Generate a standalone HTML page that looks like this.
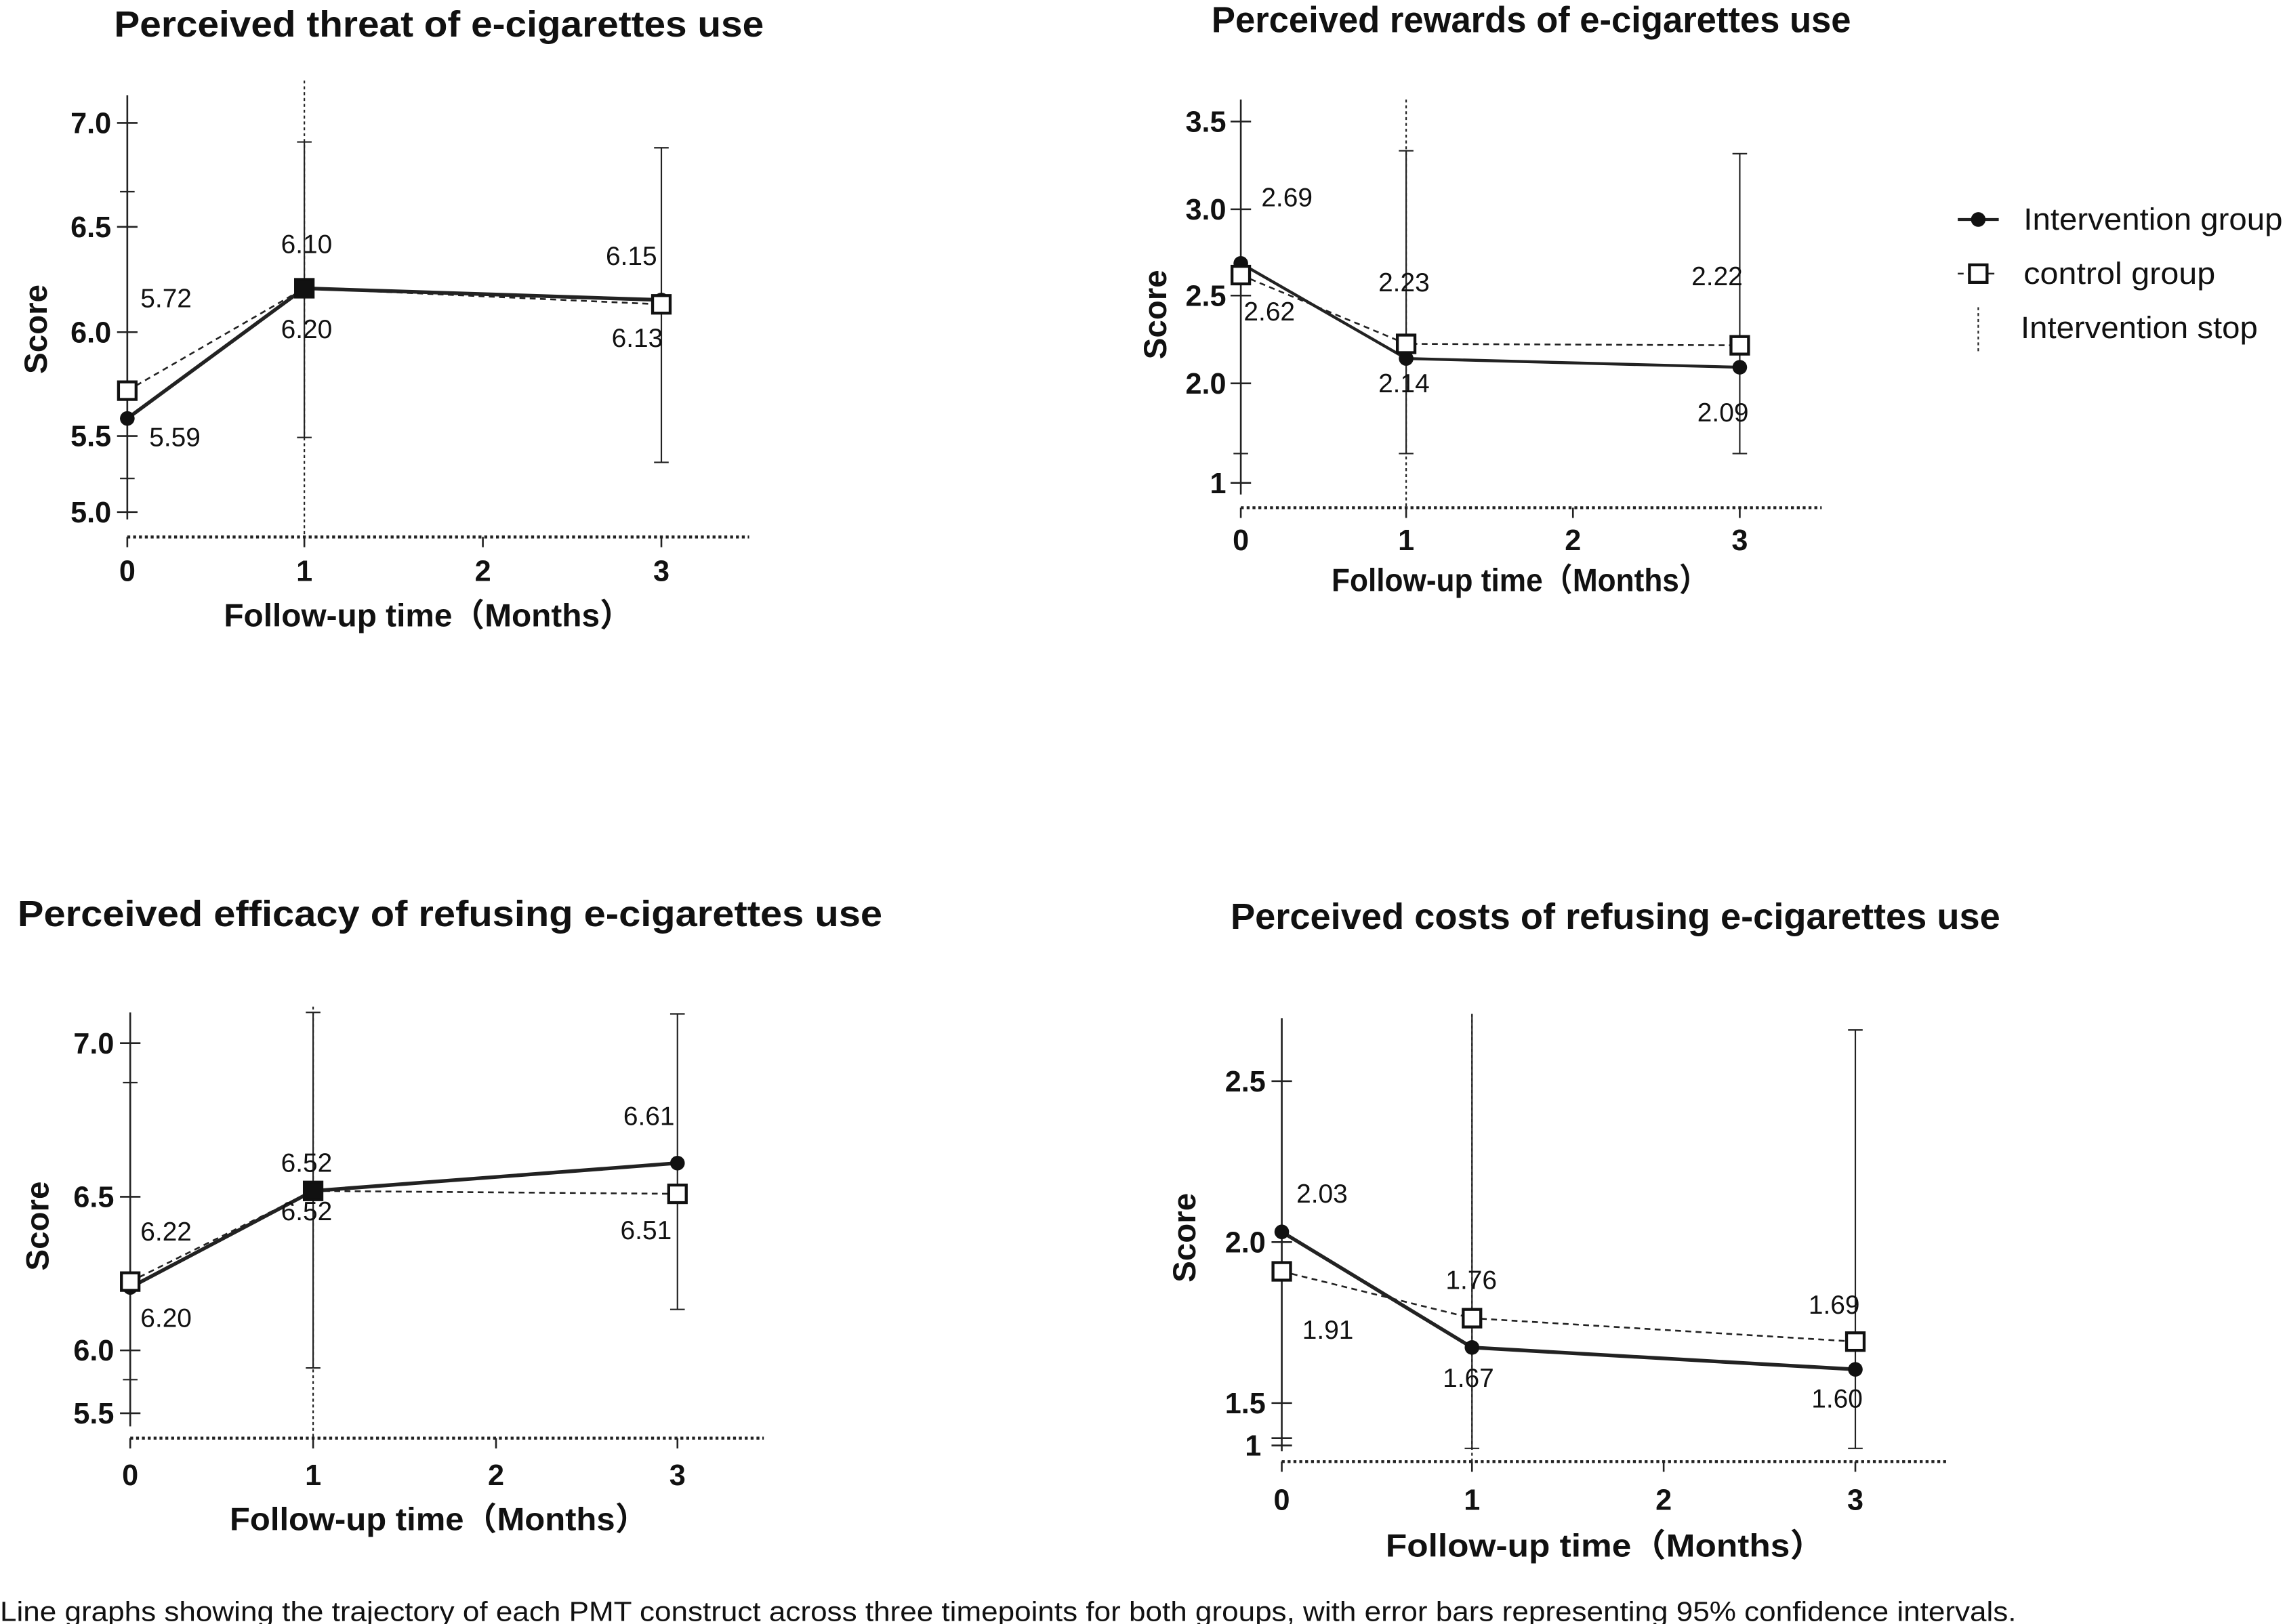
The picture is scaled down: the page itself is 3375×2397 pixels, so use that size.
<!DOCTYPE html>
<html><head><meta charset="utf-8"><style>
html,body{margin:0;padding:0;background:#fff;}
svg{display:block;}
text{font-family:"Liberation Sans","Noto Sans CJK SC",sans-serif;fill:#111;}
.t{font-size:25px;font-weight:bold;}
.tk{font-size:20px;font-weight:bold;}
.ax{font-size:22px;font-weight:bold;}
.an{font-size:18px;}
.lg{font-size:21px;}
</style></head><body>
<svg width="3375" height="2397" viewBox="0 0 1563 1110" xmlns="http://www.w3.org/2000/svg">
<g stroke="#222" fill="none">
<!-- Chart 1 -->
<line x1="87" y1="65" x2="87" y2="355" stroke-width="1.2"/>
<line x1="87" y1="367" x2="512" y2="367" stroke-dasharray="2,2" stroke-width="2"/>
<g stroke-width="1.2"><line x1="80" y1="84" x2="94" y2="84"/><line x1="80" y1="155" x2="94" y2="155"/><line x1="80" y1="227" x2="94" y2="227"/><line x1="80" y1="298" x2="94" y2="298"/><line x1="80" y1="350" x2="94" y2="350"/>
<line x1="87" y1="367" x2="87" y2="374"/><line x1="208" y1="367" x2="208" y2="374"/><line x1="330" y1="367" x2="330" y2="374"/><line x1="452" y1="367" x2="452" y2="374"/></g>
<line x1="208" y1="55" x2="208" y2="367" stroke-dasharray="2,2" stroke-width="1"/>
<g stroke-width="1"><line x1="87" y1="131" x2="87" y2="327"/><line x1="82" y1="131" x2="92" y2="131"/><line x1="82" y1="327" x2="92" y2="327"/>
<line x1="208" y1="97" x2="208" y2="299"/><line x1="203" y1="97" x2="213" y2="97"/><line x1="203" y1="299" x2="213" y2="299"/>
<line x1="452" y1="101" x2="452" y2="316"/><line x1="447" y1="101" x2="457" y2="101"/><line x1="447" y1="316" x2="457" y2="316"/></g>
<polyline points="87,267 208,197 452,208" stroke-dasharray="4,3" stroke-width="1.2"/>
<polyline points="87,286 208,197 452,205" stroke-width="2.5"/>
<!-- Chart 2 -->
<line x1="848" y1="68" x2="848" y2="338" stroke-width="1.2"/>
<line x1="848" y1="347" x2="1245" y2="347" stroke-dasharray="2,2" stroke-width="2"/>
<g stroke-width="1.2"><line x1="841" y1="83" x2="855" y2="83"/><line x1="841" y1="143" x2="855" y2="143"/><line x1="841" y1="202" x2="855" y2="202"/><line x1="841" y1="262" x2="855" y2="262"/><line x1="841" y1="330" x2="855" y2="330"/>
<line x1="848" y1="347" x2="848" y2="354"/><line x1="961" y1="347" x2="961" y2="354"/><line x1="1075" y1="347" x2="1075" y2="354"/><line x1="1189" y1="347" x2="1189" y2="354"/></g>
<line x1="961" y1="68" x2="961" y2="347" stroke-dasharray="2,2" stroke-width="1"/>
<g stroke-width="1"><line x1="848" y1="185" x2="848" y2="310"/><line x1="843" y1="310" x2="853" y2="310"/>
<line x1="961" y1="103" x2="961" y2="310"/><line x1="956" y1="103" x2="966" y2="103"/><line x1="956" y1="310" x2="966" y2="310"/>
<line x1="1189" y1="105" x2="1189" y2="310"/><line x1="1184" y1="105" x2="1194" y2="105"/><line x1="1184" y1="310" x2="1194" y2="310"/></g>
<polyline points="848,188 961,235 1189,236" stroke-dasharray="4,3" stroke-width="1.2"/>
<polyline points="848,180 961,245 1189,251" stroke-width="2"/>
<!-- legend -->
<line x1="1338" y1="150" x2="1366" y2="150" stroke-width="2"/>
<line x1="1338" y1="187" x2="1366" y2="187" stroke-dasharray="4,3" stroke-width="1.2"/>
<line x1="1352" y1="210" x2="1352" y2="242" stroke-dasharray="2,2" stroke-width="1"/>
<!-- Chart 3 -->
<line x1="89" y1="692" x2="89" y2="975" stroke-width="1.2"/>
<line x1="89" y1="983" x2="522" y2="983" stroke-dasharray="2,2" stroke-width="2"/>
<g stroke-width="1.2"><line x1="82" y1="713" x2="96" y2="713"/><line x1="82" y1="818" x2="96" y2="818"/><line x1="82" y1="923" x2="96" y2="923"/><line x1="82" y1="966" x2="96" y2="966"/>
<line x1="89" y1="983" x2="89" y2="990"/><line x1="214" y1="983" x2="214" y2="990"/><line x1="339" y1="983" x2="339" y2="990"/><line x1="463" y1="983" x2="463" y2="990"/></g>
<line x1="214" y1="688" x2="214" y2="983" stroke-dasharray="2,2" stroke-width="1"/>
<g stroke-width="1"><line x1="89" y1="740" x2="89" y2="943"/><line x1="84" y1="740" x2="94" y2="740"/><line x1="84" y1="943" x2="94" y2="943"/>
<line x1="214" y1="692" x2="214" y2="935"/><line x1="209" y1="692" x2="219" y2="692"/><line x1="209" y1="935" x2="219" y2="935"/>
<line x1="463" y1="693" x2="463" y2="895"/><line x1="458" y1="693" x2="468" y2="693"/><line x1="458" y1="895" x2="468" y2="895"/></g>
<polyline points="89,876 214,814 463,816" stroke-dasharray="4,3" stroke-width="1.2"/>
<polyline points="89,880 214,814 463,795" stroke-width="2.5"/>
<!-- Chart 4 -->
<line x1="876" y1="696" x2="876" y2="992" stroke-width="1.2"/>
<line x1="876" y1="999" x2="1332" y2="999" stroke-dasharray="2,2" stroke-width="2"/>
<g stroke-width="1.2"><line x1="869" y1="739" x2="883" y2="739"/><line x1="869" y1="849" x2="883" y2="849"/><line x1="869" y1="959" x2="883" y2="959"/><line x1="869" y1="983" x2="883" y2="983"/><line x1="869" y1="988" x2="883" y2="988"/>
<line x1="876" y1="999" x2="876" y2="1006"/><line x1="1006" y1="999" x2="1006" y2="1006"/><line x1="1137" y1="999" x2="1137" y2="1006"/><line x1="1268" y1="999" x2="1268" y2="1006"/></g>
<line x1="1006" y1="693" x2="1006" y2="999" stroke-dasharray="2,2" stroke-width="1"/>
<g stroke-width="1"><line x1="876" y1="696" x2="876" y2="959"/>
<line x1="1006" y1="693" x2="1006" y2="990"/><line x1="1001" y1="990" x2="1011" y2="990"/>
<line x1="1268" y1="704" x2="1268" y2="990"/><line x1="1263" y1="704" x2="1273" y2="704"/><line x1="1263" y1="990" x2="1273" y2="990"/></g>
<polyline points="876,869 1006,901 1268,917" stroke-dasharray="4,3" stroke-width="1.2"/>
<polyline points="876,842 1006,921 1268,936" stroke-width="2.5"/>
</g>
<!-- markers -->
<g fill="#111">
<circle cx="87" cy="286" r="5"/><circle cx="208" cy="197" r="5"/><circle cx="452" cy="205" r="5"/>
<circle cx="848" cy="180" r="5"/><circle cx="961" cy="245" r="5"/><circle cx="1189" cy="251" r="5"/>
<circle cx="1352" cy="150" r="5"/>
<circle cx="89" cy="880" r="5"/><circle cx="214" cy="814" r="5"/><circle cx="463" cy="795" r="5"/>
<circle cx="876" cy="842" r="5"/><circle cx="1006" cy="921" r="5"/><circle cx="1268" cy="936" r="5"/>
</g>
<g fill="#fff" stroke="#111" stroke-width="2">
<rect x="81" y="261" width="12" height="12"/><rect x="202" y="191" width="12" height="12" fill="#111"/><rect x="446" y="202" width="12" height="12"/>
<rect x="842" y="182" width="12" height="12"/><rect x="955" y="229" width="12" height="12"/><rect x="1183" y="230" width="12" height="12"/>
<rect x="1346" y="181" width="12" height="12"/>
<rect x="83" y="870" width="12" height="12"/><rect x="208" y="808" width="12" height="12" fill="#111"/><rect x="457" y="810" width="12" height="12"/>
<rect x="870" y="863" width="12" height="12"/><rect x="1000" y="895" width="12" height="12"/><rect x="1262" y="911" width="12" height="12"/>
</g>
<!-- titles -->
<text class="t" x="78" y="25" textLength="444" lengthAdjust="spacingAndGlyphs">Perceived threat of e-cigarettes use</text>
<text class="t" x="828" y="22" textLength="437" lengthAdjust="spacingAndGlyphs">Perceived rewards of e-cigarettes use</text>
<text class="t" x="12" y="633" textLength="591" lengthAdjust="spacingAndGlyphs">Perceived efficacy of refusing e-cigarettes use</text>
<text class="t" x="841" y="635" textLength="526" lengthAdjust="spacingAndGlyphs">Perceived costs of refusing e-cigarettes use</text>
<!-- tick labels -->
<g class="tk" text-anchor="end">
<text x="76" y="91">7.0</text><text x="76" y="162">6.5</text><text x="76" y="234">6.0</text><text x="76" y="305">5.5</text><text x="76" y="357">5.0</text>
<text x="838" y="90">3.5</text><text x="838" y="150">3.0</text><text x="838" y="209">2.5</text><text x="838" y="269">2.0</text><text x="838" y="337">1</text>
<text x="78" y="720">7.0</text><text x="78" y="825">6.5</text><text x="78" y="930">6.0</text><text x="78" y="973">5.5</text>
<text x="865" y="746">2.5</text><text x="865" y="856">2.0</text><text x="865" y="966">1.5</text><text x="862" y="995">1</text>
</g>
<g class="tk" text-anchor="middle">
<text x="87" y="397">0</text><text x="208" y="397">1</text><text x="330" y="397">2</text><text x="452" y="397">3</text>
<text x="848" y="376">0</text><text x="961" y="376">1</text><text x="1075" y="376">2</text><text x="1189" y="376">3</text>
<text x="89" y="1015">0</text><text x="214" y="1015">1</text><text x="339" y="1015">2</text><text x="463" y="1015">3</text>
<text x="876" y="1032">0</text><text x="1006" y="1032">1</text><text x="1137" y="1032">2</text><text x="1268" y="1032">3</text>
</g>
<g class="ax">
<text x="153" y="428" textLength="279" lengthAdjust="spacingAndGlyphs">Follow-up time（Months）</text>
<text x="910" y="404" textLength="258" lengthAdjust="spacingAndGlyphs">Follow-up time（Months）</text>
<text x="157" y="1046" textLength="286" lengthAdjust="spacingAndGlyphs">Follow-up time（Months）</text>
<text x="947" y="1064" textLength="300" lengthAdjust="spacingAndGlyphs">Follow-up time（Months）</text>
</g>
<g class="ax" text-anchor="middle">
<text transform="translate(32,225) rotate(-90)">Score</text>
<text transform="translate(797,215) rotate(-90)">Score</text>
<text transform="translate(33,838) rotate(-90)">Score</text>
<text transform="translate(817,846) rotate(-90)">Score</text>
</g>
<!-- annotations -->
<g class="an">
<text x="96" y="210">5.72</text><text x="102" y="305">5.59</text><text x="192" y="173">6.10</text><text x="192" y="231">6.20</text><text x="414" y="181">6.15</text><text x="418" y="237">6.13</text>
<text x="862" y="141">2.69</text><text x="850" y="219">2.62</text><text x="942" y="199">2.23</text><text x="942" y="268">2.14</text><text x="1156" y="195">2.22</text><text x="1160" y="288">2.09</text>
<text x="96" y="848">6.22</text><text x="96" y="907">6.20</text><text x="192" y="801">6.52</text><text x="192" y="834">6.52</text><text x="426" y="769">6.61</text><text x="424" y="847">6.51</text>
<text x="886" y="822">2.03</text><text x="890" y="915">1.91</text><text x="988" y="881">1.76</text><text x="986" y="948">1.67</text><text x="1236" y="898">1.69</text><text x="1238" y="962">1.60</text>
</g>
<g class="lg">
<text x="1383" y="157" textLength="177" lengthAdjust="spacingAndGlyphs">Intervention group</text>
<text x="1383" y="194" textLength="131" lengthAdjust="spacingAndGlyphs">control group</text>
<text x="1381" y="231" textLength="162" lengthAdjust="spacingAndGlyphs">Intervention stop</text>
</g>
<text x="0" y="1108" style="font-size:19px" textLength="1378" lengthAdjust="spacingAndGlyphs">Line graphs showing the trajectory of each PMT construct across three timepoints for both groups, with error bars representing 95% confidence intervals.</text>
</svg>
</body></html>
